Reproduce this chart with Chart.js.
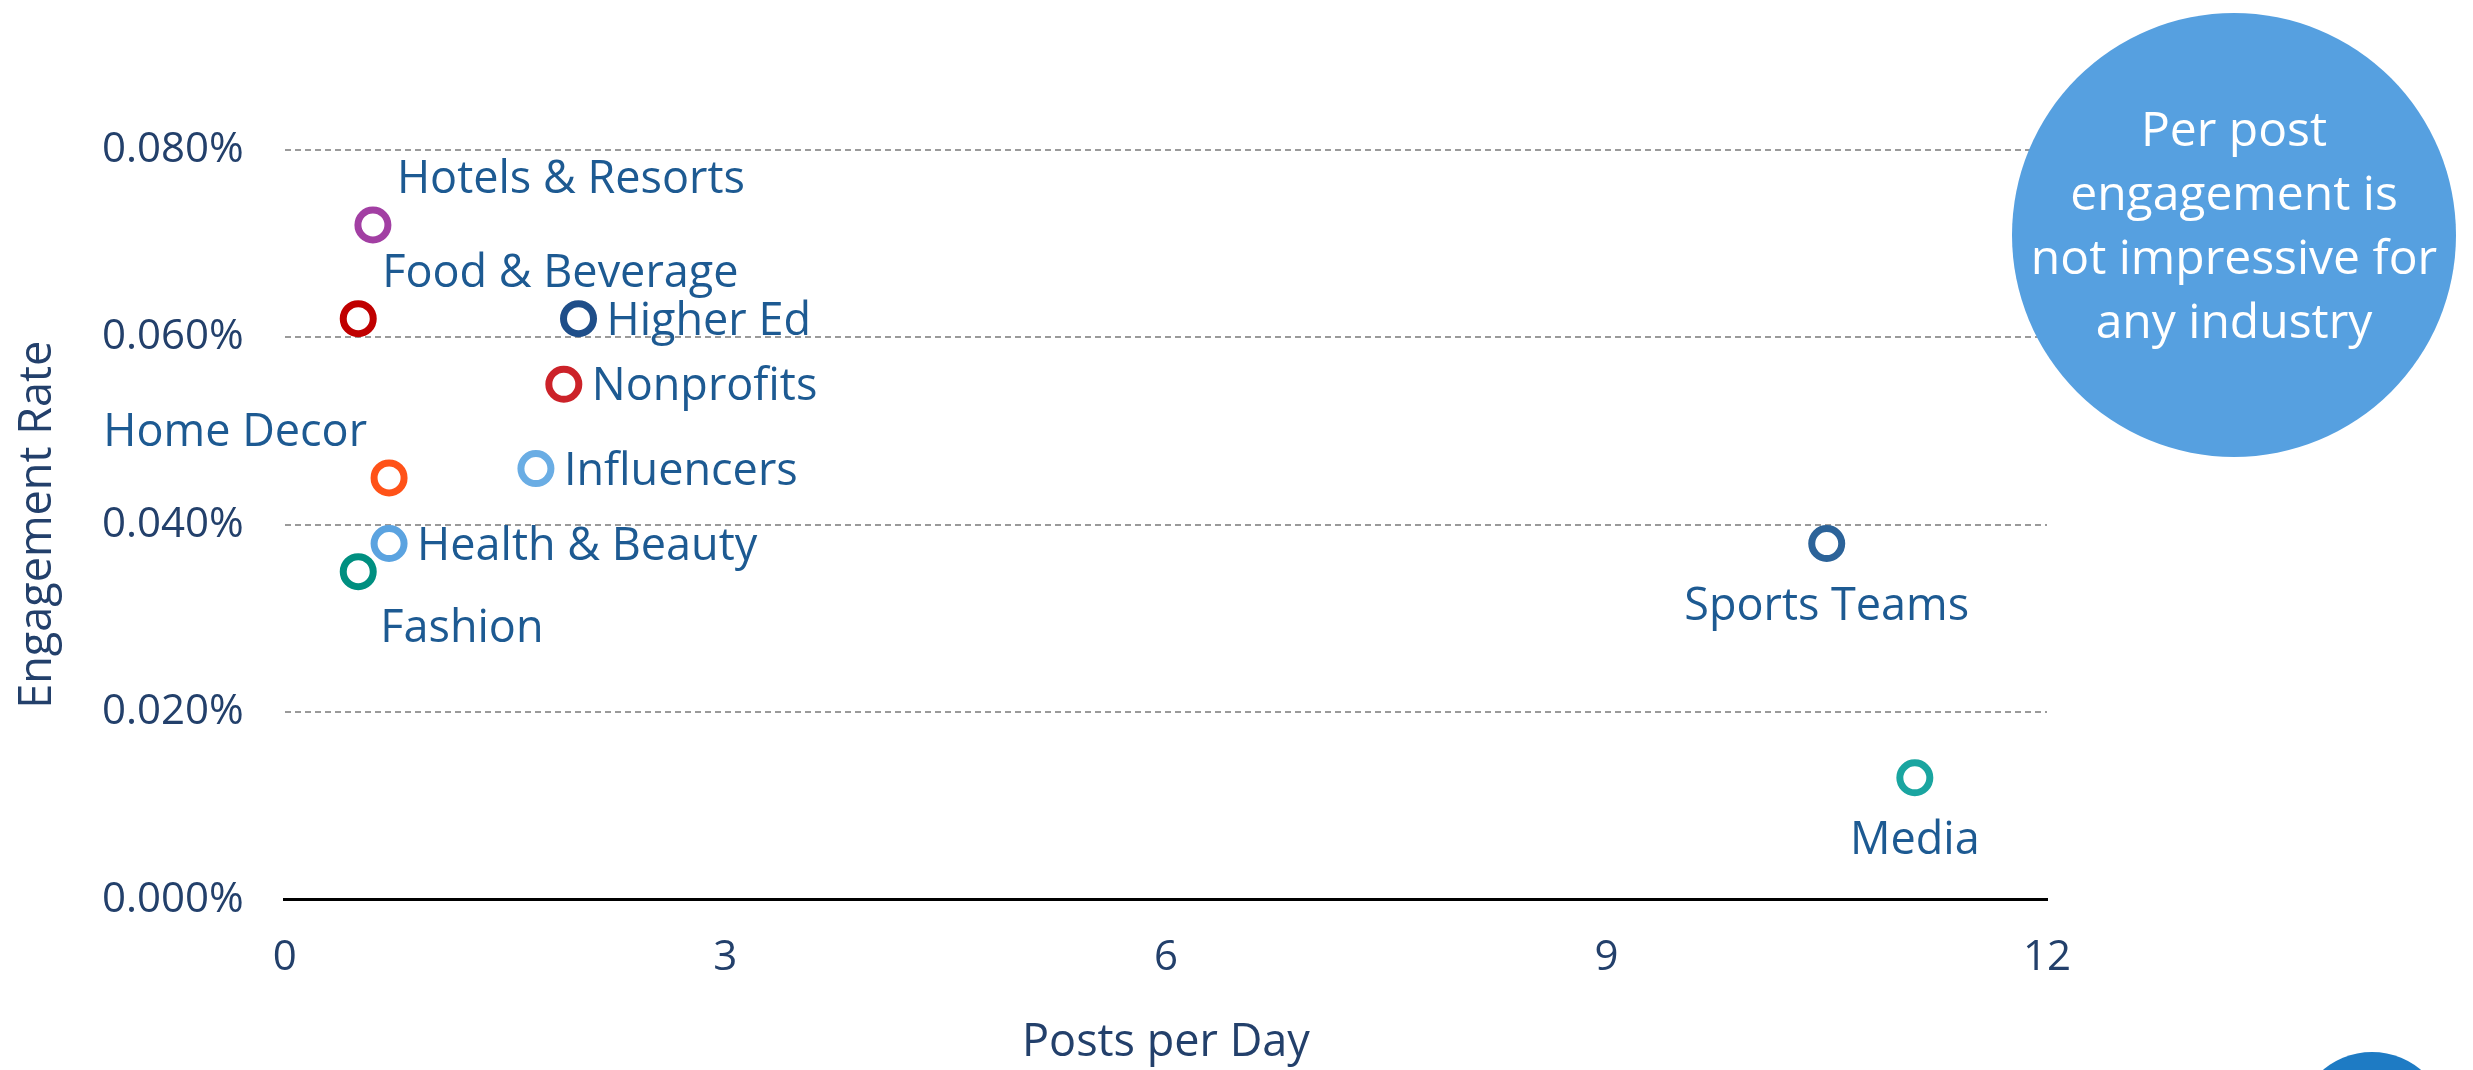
<!DOCTYPE html>
<html lang="en">
<head>
    <meta charset="UTF-8">
    <title>Engagement Rate vs Posts per Day</title>
    <script src="https://cdn.jsdelivr.net/npm/chart.js"></script>
    <style>
        body {
            margin: 0;
            background: #ffffff;
            font-family: "Open Sans", sans-serif;
        }

        .wrap {
            position: relative;
            width: 2473px;
            height: 1070px;
            overflow: hidden;
        }

        /* callout bubble on the right */
        .bubble {
            position: absolute;
            left: 2012px;
            top: 13px;
            width: 444px;
            height: 444px;
            border-radius: 50%;
            background: #56a0e0;
            color: #ffffff;
            font-size: 48px;
            line-height: 64px;
            text-align: center;
            display: flex;
            align-items: center;
            justify-content: center;
        }

        .bubble div {
            padding-bottom: 22px;
        }

        .dot {
            position: absolute;
            left: 2296px;
            top: 1052px;
            width: 152px;
            height: 152px;
            border-radius: 50%;
            background: #1e7bc4;
        }
    </style>
</head>
<body>
    <div class="wrap">
        <canvas id="scatter" width="2473" height="1070"></canvas>
        <div class="bubble"><div>Per post<br>engagement is<br>not impressive for<br>any industry</div></div>
        <div class="dot"></div>
    </div>

    <script>
        // Industries and their values (engagement rate in %)
        const industries = ["Hotels & Resorts", "Food & Beverage", "Higher Ed", "Nonprofits", "Home Decor",
            "Influencers", "Health & Beauty", "Fashion", "Sports Teams", "Media"];
        const postsPerDay = [0.60, 0.50, 2.00, 1.90, 0.71, 1.71, 0.71, 0.50, 10.50, 11.10];
        const engagementRate = [0.072, 0.062, 0.062, 0.055, 0.045, 0.046, 0.038, 0.035, 0.038, 0.013];

        const pointColors = ["#a23fa3", "#c00000", "#1f4e89", "#cc2229", "#ff5218",
            "#6aade4", "#5ba3e0", "#008f80", "#2c6399", "#1aa5a0"];
        // where each label sits around its point
        const labelSide = ["aboveRight", "aboveRight", "right", "right", "aboveLeft",
            "right", "right", "belowRight", "below", "below"];

        const labelOffsets = {
            aboveRight: { dx: 24, dy: -32, align: 'left' },
            aboveLeft: { dx: -22, dy: -32, align: 'right' },
            right: { dx: 28, dy: 16, align: 'left' },
            belowRight: { dx: 22, dy: 70, align: 'left' },
            below: { dx: 0, dy: 76, align: 'center' }
        };

        const pointLabels = {
            id: 'pointLabels',
            afterDatasetsDraw(chart) {
                const ctx = chart.ctx;
                const meta = chart.getDatasetMeta(0);
                ctx.save();
                ctx.font = '45px "Open Sans"';
                ctx.fillStyle = '#1d5a92';
                ctx.textBaseline = 'alphabetic';
                meta.data.forEach((pt, i) => {
                    const o = labelOffsets[labelSide[i]];
                    ctx.textAlign = o.align;
                    ctx.fillText(industries[i], pt.x + o.dx, pt.y + o.dy);
                });
                ctx.restore();
            }
        };

        const tickColor = '#23406b';

        new Chart(document.getElementById('scatter'), {
            type: 'scatter',
            data: {
                datasets: [{
                    data: postsPerDay.map((x, i) => ({ x: x, y: engagementRate[i] })),
                    backgroundColor: '#ffffff',
                    borderColor: pointColors,
                    borderWidth: 7,
                    pointRadius: 15,
                    pointHoverRadius: 15
                }]
            },
            options: {
                responsive: false,
                animation: false,
                layout: {
                    padding: { top: 150, right: 426, bottom: 0, left: 0 }
                },
                plugins: {
                    legend: { display: false },
                    tooltip: { enabled: false }
                },
                scales: {
                    x: {
                        min: 0,
                        max: 12,
                        ticks: {
                            stepSize: 3,
                            padding: 33,
                            color: tickColor,
                            font: { family: 'Open Sans', size: 42 }
                        },
                        grid: { display: false, drawTicks: false },
                        border: { display: true, color: '#000000', width: 3 },
                        title: {
                            display: true,
                            text: 'Posts per Day',
                            color: tickColor,
                            font: { family: 'Open Sans', size: 45 },
                            padding: { top: 0, bottom: 0 }
                        }
                    },
                    y: {
                        min: 0,
                        max: 0.08,
                        ticks: {
                            stepSize: 0.02,
                            padding: 41,
                            color: tickColor,
                            font: { family: 'Open Sans', size: 42 },
                            callback: v => v.toFixed(3) + '%'
                        },
                        grid: {
                            drawTicks: false,
                            color: c => (c.tick && c.tick.value === 0) ? 'rgba(0,0,0,0)' : '#9a9a9a',
                            lineWidth: 2
                        },
                        border: { display: false, dash: [6, 4] },
                        title: {
                            display: true,
                            text: 'Engagement Rate',
                            color: tickColor,
                            font: { family: 'Open Sans', size: 45, lineHeight: 1 },
                            padding: { top: 16, bottom: 0 }
                        }
                    }
                }
            },
            plugins: [pointLabels]
        });
    </script>
</body>
</html>
